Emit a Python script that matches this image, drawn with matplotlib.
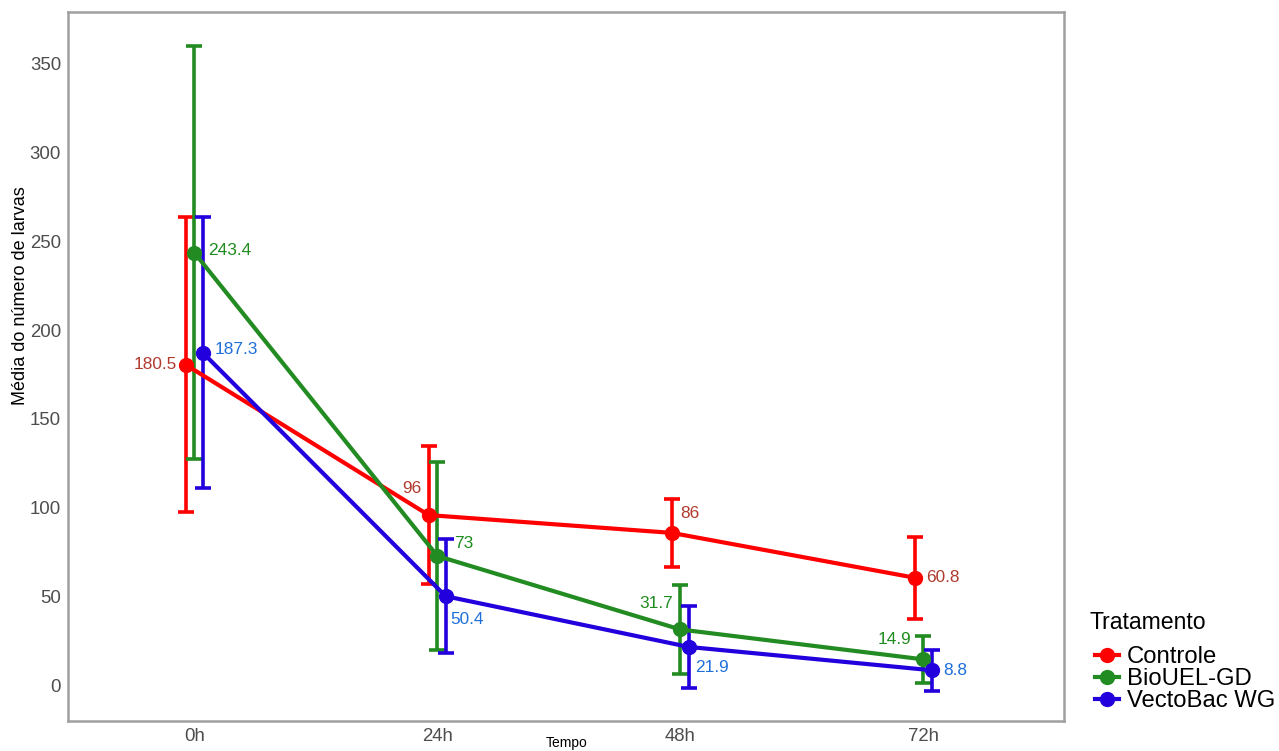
import matplotlib
import matplotlib.pyplot as plt
import numpy as np
from matplotlib import font_manager
from matplotlib.lines import Line2D

matplotlib.use('Agg')
plt.rcParams['font.family'] = ['Liberation Sans', 'DejaVu Sans']

# fonte estreita para os rótulos dos eixos, se existir
try:
    font_manager.findfont('Liberation Sans Narrow', fallback_to_default=False)
    fonte_estreita = ['Liberation Sans Narrow', 'Liberation Sans', 'DejaVu Sans']
except ValueError:
    fonte_estreita = ['Liberation Sans', 'DejaVu Sans']

# dados
tempos = ['0h', '24h', '48h', '72h']
tratamentos = ['Controle', 'BioUEL-GD', 'VectoBac WG']
media_controle = [180.5, 96, 86, 60.8]
media_biouel = [243.4, 73, 31.7, 14.9]
media_vectobac = [187.3, 50.4, 21.9, 8.8]
dp_controle = [83, 39, 19, 23]
dp_biouel = [116, 53, 25, 13]
dp_vectobac = [76, 32, 23, 11.5]

cores_linha = ['#FF0000', '#228B22', '#2200DD']
cores_texto = ['#B03A2E', '#1E8C1E', '#1E6FD9']
desloc = [-0.036, 0.0, 0.034]

# deslocamento dos rótulos em pontos e alinhamento horizontal
rotulos_pos = [
    [(-6, 0, 'right'), (-5, 19, 'right'), (6.5, 14, 'left'), (8, 0, 'left')],
    [(10, 2, 'left'), (12, 9, 'left'), (-5, 19, 'right'), (-8.6, 14, 'right')],
    [(8.6, 2, 'left'), (3.6, -16.5, 'left'), (4.3, -15, 'left'), (8, 0, 'left')],
]

fig = plt.figure(figsize=(12.79, 7.51), dpi=100)
ax = fig.add_axes([0.0532, 0.04, 0.779, 0.944])

x = np.arange(len(tempos))
medias = [media_controle, media_biouel, media_vectobac]
dps = [dp_controle, dp_biouel, dp_vectobac]

for i in range(3):
    xs = x + desloc[i]
    ax.errorbar(xs, medias[i], yerr=dps[i], fmt='none', ecolor=cores_linha[i],
                elinewidth=2.6, capsize=5.5, capthick=2.6, zorder=2)
    ax.plot(xs, medias[i], color=cores_linha[i], lw=3, marker='o',
            markersize=10, zorder=3)
    for j, v in enumerate(medias[i]):
        dx, dy, ha = rotulos_pos[i][j]
        ax.annotate(f'{v:g}', (xs[j], v), xytext=(dx, dy),
                    textcoords='offset points', ha=ha, va='center',
                    color=cores_texto[i], fontsize=12.4)

ax.set_xlim(-0.52, 3.58)
ax.set_ylim(-19.7, 378.7)
ax.set_xticks(x)
ax.set_xticklabels(tempos, family=fonte_estreita)
ax.set_yticks(np.arange(0, 351, 50))
ax.tick_params(length=0, labelsize=13.4, labelcolor='#4D4D4D', pad=5)
for s in ax.spines.values():
    s.set_color('#A0A0A0')
    s.set_linewidth(1.8)

ax.set_ylabel('Média do número de larvas', fontsize=13, family=fonte_estreita)
ax.yaxis.set_label_coords(-0.048, 0.6)
ax.yaxis.label.set_va('center')
ax.set_xlabel('Tempo', fontsize=10, family=fonte_estreita)
ax.xaxis.set_label_coords(0.5, -0.031)
ax.xaxis.label.set_va('center')

fig.text(0.852, 0.1705, 'Tratamento', fontsize=16.6, va='center', ha='left')
handles = [Line2D([], [], color=c, lw=3, marker='o', markersize=10)
           for c in cores_linha]
fig.legend(handles, tratamentos, loc='upper left',
           bbox_to_anchor=(0.856, 0.1392), frameon=False, fontsize=17.2,
           handlelength=1.0, handletextpad=0.35, labelspacing=0.0,
           borderpad=0, borderaxespad=0)

fig.savefig('out.png', dpi=100)
